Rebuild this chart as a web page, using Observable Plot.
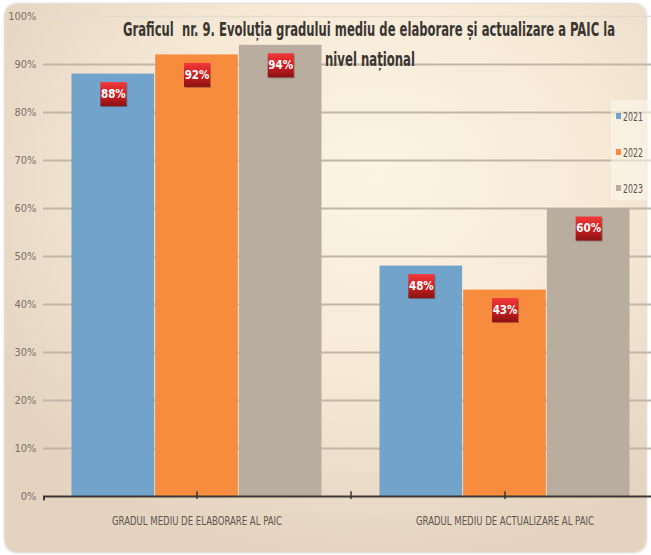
<!DOCTYPE html>
<html><head><meta charset="utf-8">
<script src="https://cdn.jsdelivr.net/npm/d3@7"></script>
<script src="https://cdn.jsdelivr.net/npm/@observablehq/plot@0.6"></script>
<style>
html,body{margin:0;padding:0;background:#fff;}
#wrap{position:relative;width:651px;height:555px;overflow:hidden;}
#panel{position:absolute;left:5px;top:4px;width:641px;height:548px;border-radius:12px;
 background: radial-gradient(ellipse 70% 70% at 58% 32%, #fdf4e4 0%, #f6ead7 50%, #e3d3bf 100%);
 box-shadow: 0 0 3px rgba(110,95,80,.55);}
#chart{position:absolute;left:0;top:0;}
</style></head><body>
<div id="wrap"><div id="panel"></div><div id="chart"></div></div>
<script>
const categories = ["GRADUL MEDIU DE ELABORARE AL PAIC", "GRADUL MEDIU DE ACTUALIZARE AL PAIC"];
const years = ["2021", "2022", "2023"];
const values2021 = [0.88, 0.48];
const values2022 = [0.92, 0.43];
const values2023 = [0.94, 0.60];
const yTicks = [0, 0.1, 0.2, 0.3, 0.4, 0.5, 0.6, 0.7, 0.8, 0.9, 1.0];
const colors = ["#71a3cb", "#f78b3e", "#b9ad9f"];
const titleLines = ["Graficul  nr. 9. Evoluția gradului mediu de elaborare și actualizare a PAIC la", "nivel național"];

const series = [values2021, values2022, values2023];
const rows = years.flatMap((yr, i) => categories.map((c, j) => ({category: c, year: yr, value: series[i][j]})));

const step = 308, bw = step * 0.815, third = bw / 3;
const fontStack = "'Liberation Sans Narrow','DejaVu Sans Condensed','Roboto Condensed',sans-serif";
const boxSymbol = {draw(ctx) { ctx.rect(-13, -12, 26, 24); }};
const pct = d => Math.round(d * 100) + "%";
const axisColor = "#3d3833";

const marks = [
  Plot.ruleY(yTicks.filter(d => d > 0 && d < 1), {y: d => d, stroke: "#c2b6a6", strokeWidth: 2}),
  Plot.ruleY([1], {y: d => d, stroke: "#e6dccd", strokeWidth: 1.5}),
  ...years.map((yr, i) => Plot.barY(rows.filter(r => r.year === yr), {
    x: "category", y: "value", fill: colors[i],
    insetLeft: i * third + 0.5, insetRight: (2 - i) * third + 0.5
  })),
  Plot.ruleY([0], {y: d => d, stroke: axisColor, strokeWidth: 2}),
  Plot.ruleX(categories, {x: d => d, y1: -0.006, y2: 0.01, stroke: axisColor, strokeWidth: 1.5}),
  Plot.ruleX([categories[0]], {x: d => d, dx: step / 2, y1: -0.006, y2: 0.01, stroke: axisColor, strokeWidth: 1.5}),
  Plot.ruleX([categories[0]], {x: d => d, dx: -step / 2 + 1, y1: -0.009, y2: 0, stroke: axisColor, strokeWidth: 2}),
  Plot.text(yTicks, {y: d => d, frameAnchor: "left", dx: -7, textAnchor: "end", text: pct, fill: "#7a7067", fontSize: 11}),
  Plot.text(categories, {x: d => d, y: () => 0, dy: 25, text: d => d, fill: "#5e5650", fontSize: 11.5}),
  ...years.map((yr, i) => Plot.dot(rows.filter(r => r.year === yr), {
    x: "category", y: "value", dx: (i - 1) * third + 1, dy: 21, symbol: boxSymbol, r: 5, fill: "rgba(60,20,20,0.35)"
  })),
  ...years.map((yr, i) => Plot.dot(rows.filter(r => r.year === yr), {
    x: "category", y: "value", dx: (i - 1) * third, dy: 20, symbol: boxSymbol, r: 5, fill: "url(#lblgrad)"
  })),
  ...years.map((yr, i) => Plot.text(rows.filter(r => r.year === yr), {
    x: "category", y: "value", dx: (i - 1) * third, dy: 20, text: d => pct(d.value),
    fill: "white", fontWeight: "bold", fontSize: 11.5
  }))
];

const chart = Plot.plot({
  width: 651, height: 555,
  marginLeft: 43, marginRight: 0, marginTop: 16, marginBottom: 59,
  x: {domain: categories, range: [43, 659], paddingInner: 0.185, paddingOuter: 0.0925, axis: null},
  y: {domain: [0, 1], axis: null},
  style: {background: "transparent", fontFamily: fontStack, overflow: "visible"},
  marks
});
document.getElementById("chart").appendChild(chart);

const svg = d3.select(chart);
svg.insert("defs", ":first-child").html(
  '<linearGradient id="lblgrad" x1="0" y1="0" x2="0" y2="1">' +
  '<stop offset="0" stop-color="#f0393a"/><stop offset="0.5" stop-color="#cf2024"/><stop offset="1" stop-color="#8a1213"/></linearGradient>');

// category labels: condensed width
svg.selectAll("text").each(function() {
  const t = this.textContent;
  if (t === categories[0]) d3.select(this).attr("textLength", 170).attr("lengthAdjust", "spacingAndGlyphs");
  if (t === categories[1]) d3.select(this).attr("textLength", 178).attr("lengthAdjust", "spacingAndGlyphs");
});

// title
const tg = svg.append("g").attr("font-family", fontStack).attr("font-weight", "bold").attr("fill", "#3a3633")
  .attr("font-size", 12.5).attr("text-anchor", "middle");
tg.append("text").attr("transform", "translate(369,36) scale(1,1.55)")
  .attr("textLength", 492).attr("lengthAdjust", "spacingAndGlyphs").text(titleLines[0]);
tg.append("text").attr("transform", "translate(370,66) scale(1,1.55)")
  .attr("textLength", 90).attr("lengthAdjust", "spacingAndGlyphs").text(titleLines[1]);

// legend
const lg = svg.append("g").attr("font-family", fontStack).attr("font-size", 12).attr("fill", "#5a544e").attr("text-anchor", "start");
lg.append("rect").attr("x", 611).attr("y", 100).attr("width", 42).attr("height", 100).attr("fill", "rgba(253,247,236,0.55)");
years.forEach((yr, i) => {
  const cy = 116 + i * 36;
  lg.append("rect").attr("x", 616).attr("y", cy - 3).attr("width", 5).attr("height", 6).attr("fill", colors[i]);
  lg.append("text").attr("x", 623).attr("y", cy + 4.5).attr("textLength", 20).attr("lengthAdjust", "spacingAndGlyphs").text(yr);
});
</script>
</body></html>
